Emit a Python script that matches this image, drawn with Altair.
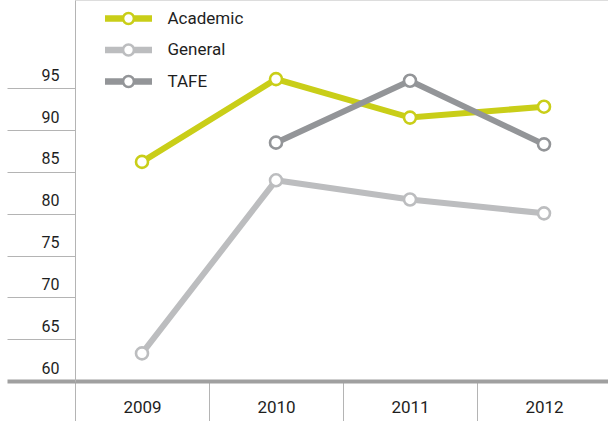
import altair as alt
import pandas as pd

years = ["2009", "2010", "2011", "2012"]
series_names = ["Academic", "General", "TAFE"]
academic = [86.2, 96.1, 91.5, 92.8]
general = [63.3, 84.0, 81.7, 80.05]
tafe = [None, 88.5, 95.9, 88.3]
y_ticks = [60, 65, 70, 75, 80, 85, 90, 95]
colors = ["#C9CE18", "#BCBDBF", "#939598"]

rows = []
# drawing order: General at the back, then Academic, then TAFE on top
for name, vals in [("General", general), ("Academic", academic), ("TAFE", tafe)]:
    for yr, v in zip(years, vals):
        if v is not None:
            rows.append({"year": yr, "series": name, "value": v})
df = pd.DataFrame(rows)

FONT = "Roboto"
TEXT = "#1e1e1e"

# legend symbol: thick line with hollow circle in the middle (pixel units, size=4 -> scale 1)
sym_path = (
    "M-23.5,-2H-5.8 M5.8,-2H23.5 "
    "M-23.5,0H-5.8 M5.8,0H23.5 "
    "M-23.5,2H-5.8 M5.8,2H23.5 "
    "M-5.5,0A5.5,5.5 0 1,0 5.5,0A5.5,5.5 0 1,0 -5.5,0"
)

x_enc = alt.X(
    "year:N",
    sort=years,
    scale=alt.Scale(type="band", range=[0, 536], paddingInner=0, paddingOuter=0),
    axis=alt.Axis(
        title=None,
        domainColor="#a0a0a0",
        domainWidth=4,
        tickColor="#b4b4b4",
        tickWidth=1,
        tickSize=40,
        tickBand="extent",
        labelPadding=-14,
        labelBaseline="middle",
        labelAngle=0,
        labelFont=FONT,
        labelFontSize=17,
        labelColor=TEXT,
        grid=False,
    ),
)

y_enc = alt.Y(
    "value:Q",
    scale=alt.Scale(domain=[60, 105.56], nice=False, zero=False),
    axis=alt.Axis(
        title=None,
        values=y_ticks,
        domainColor="#b4b4b4",
        domainWidth=1,
        tickColor=alt.condition("datum.value == 60", alt.value("#a0a0a0"), alt.value("#b4b4b4")),
        tickWidth=alt.condition("datum.value == 60", alt.value(4), alt.value(1)),
        tickSize=68,
        labelPadding=-52,
        labelAlign="right",
        labelBaseline="alphabetic",
        labelOffset=-8,
        labelFont=FONT,
        labelFontSize=16,
        labelColor=TEXT,
        grid=False,
    ),
)

lines = alt.Chart(df).mark_line(strokeWidth=6, strokeCap="butt").encode(
    x=x_enc,
    y=y_enc,
    stroke=alt.Stroke("series:N", scale=alt.Scale(domain=series_names, range=colors), legend=None),
)

points = alt.Chart(df).mark_point(
    filled=False, fill="white", size=144, strokeWidth=2.6, opacity=1
).encode(
    x=x_enc,
    y=y_enc,
    color=alt.Color(
        "series:N",
        scale=alt.Scale(domain=series_names, range=colors),
        legend=alt.Legend(
            title=None,
            orient="none",
            legendX=21.5,
            legendY=10,
            symbolType=sym_path,
            symbolSize=4,
            symbolOffset=23.5,
            symbolStrokeWidth=2.7,
            symbolFillColor="white",
            labelOffset=30.5,
            labelFont=FONT,
            labelFontSize=17,
            labelColor=TEXT,
            rowPadding=8.5,
            padding=0,
        ),
    ),
)

chart = (
    alt.layer(lines, points)
    .resolve_scale(color="independent", stroke="independent")
    .properties(
        width=533,
        height=381,
        autosize=alt.AutoSizeParams(type="none"),
        padding={"left": 75, "top": 0, "right": 0, "bottom": 40},
    )
    .configure_view(strokeOpacity=0)
    .configure(background="white")
)

chart.save("out.html", embed_options={"renderer": "svg", "actions": False})
